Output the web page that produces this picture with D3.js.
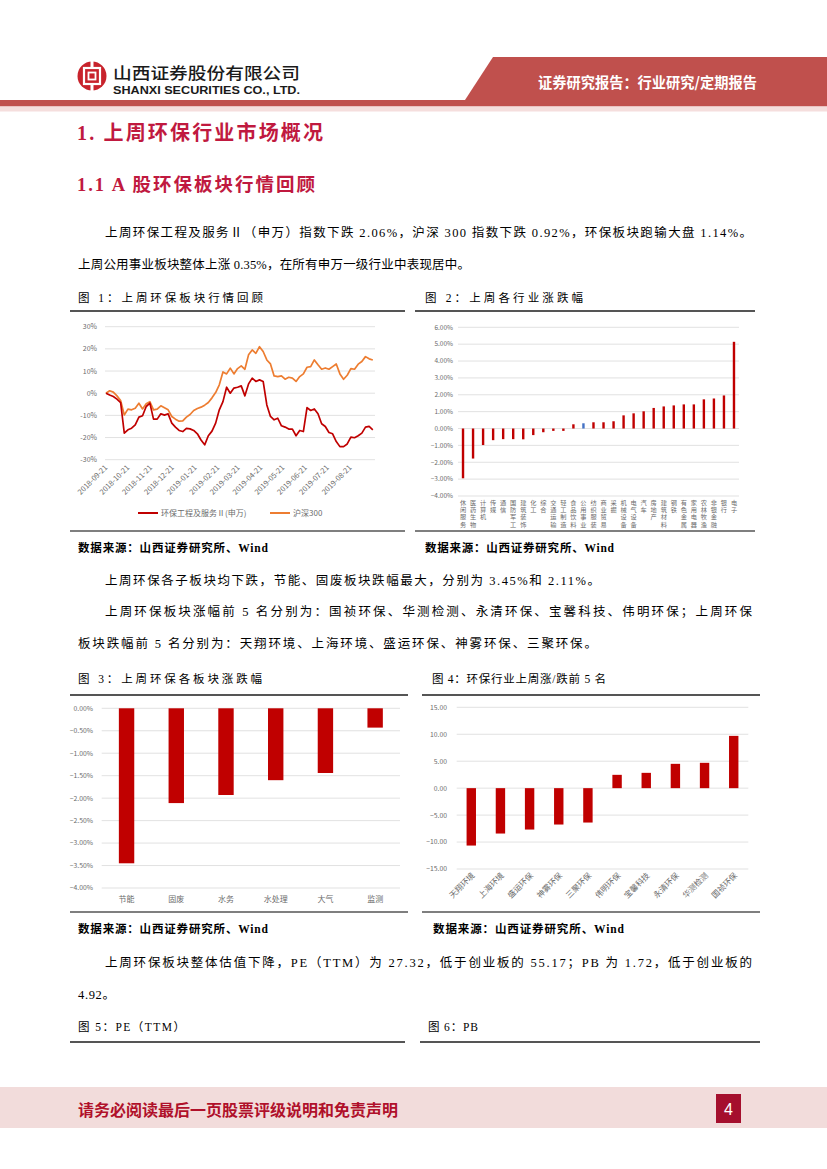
<!DOCTYPE html>
<html>
<head>
<meta charset="utf-8">
<script src="https://cdn.jsdelivr.net/npm/d3@7"></script>
<style>
  body { margin: 0; background: #fff; }
  svg { display: block; }
  .txt { font-family: "Liberation Serif", "Noto Sans CJK SC", serif; }
  .lbl { font-family: "Noto Sans CJK SC", "Liberation Sans", sans-serif; fill: #6b6b6b; }
  .grid { stroke: #d9d9d9; stroke-width: 0.8; }
</style>
</head>
<body>
<div id="page"></div>
<script>
const Width = 827;
const Height = 1169;

// chart 1: index trend, one reading every 5 days from the start date
const lineStart = '2018-09-21';
const lineStepDays = 5;
const ebIndex = [0, -0.8, -1.5, -2.7, -4.2, -18.0, -16.5, -15.8, -14.3, -10.8,
  -10.2, -6.0, -4.5, -11.7, -11.7, -9.3, -9.9, -9.3, -13.5, -15.3,
  -16.8, -17.3, -15.9, -16.1, -16.8, -18.3, -21.1, -23.3, -19.2, -17.1,
  -13.5, -7.5, -3.8, 2.7, 0, 2.3, 2.7, 3.3, -1.2, 4.2,
  6.8, 5.3, 6.0, 5.3, -5.3, -10.5, -12.0, -11.3, -14.7, -15.3,
  -16.2, -16.2, -19.2, -16.8, -17.3, -6.5, -7.8, -7.1, -9.3, -13.8,
  -15.0, -17.7, -18.3, -21.8, -24.1, -24.1, -22.9, -19.8, -20.1, -19.2,
  -18.0, -15.3, -15.0, -16.5];
const hs300 = [0, 1.1, 0.5, -1.2, -3.3, -9.8, -7.2, -7.5, -6.8, -4.5,
  -7.1, -4.8, -3.8, -7.5, -7.2, -5.7, -6.6, -7.5, -10.5, -11.7,
  -12.6, -12.5, -10.8, -9.6, -7.8, -6.9, -6.3, -5.4, -4.2, -2.1,
  0.3, 3.8, 9.6, 8.7, 11.3, 8.7, 11.1, 12.3, 10.8, 17.3,
  19.5, 18.0, 21.0, 18.8, 15.0, 13.2, 7.8, 7.5, 7.8, 6.3,
  7.2, 6.8, 5.3, 7.5, 8.7, 11.7, 12.0, 15.0, 12.8, 10.8,
  11.4, 10.8, 12.0, 13.2, 8.7, 6.3, 8.1, 11.1, 10.8, 13.1,
  14.3, 16.5, 15.5, 15.0];
const lineTicks = ['2018-09-21', '2018-10-21', '2018-11-21', '2018-12-21', '2019-01-21', '2019-02-21',
  '2019-03-21', '2019-04-21', '2019-05-21', '2019-06-21', '2019-07-21', '2019-08-21'];
const lineEnd = '2019-09-24';
const lineSeriesNames = ['环保工程及服务Ⅱ(申万)', '沪深300'];

// chart 2: industries
const industryNames = ['休闲服务', '医药生物', '计算机', '传媒', '通信', '国防军工', '建筑装饰',
  '化工', '综合', '交通运输', '轻工制造', '食品饮料', '公用事业', '纺织服装', '商业贸易',
  '采掘', '机械设备', '电气设备', '汽车', '房地产', '建筑材料', '钢铁', '有色金属',
  '家用电器', '农林牧渔', '非银金融', '银行', '电子'];
const industryChange = [-2.95, -1.78, -0.98, -0.69, -0.63, -0.63, -0.64, -0.39, -0.22, -0.14,
  -0.14, 0.25, 0.31, 0.37, 0.37, 0.43, 0.78, 0.90, 1.02, 1.22,
  1.31, 1.37, 1.43, 1.43, 1.73, 1.78, 1.96, 5.14];
const highlightIndustry = '公用事业';

// chart 3: sub sectors
const subSectors = ['节能', '固废', '水务', '水处理', '大气', '监测'];
const subSectorChange = [-3.45, -2.11, -1.93, -1.60, -1.44, -0.43];

// chart 4: top / bottom 5 stocks
const stockNames = ['天翔环境', '上海环境', '盛运环保', '神雾环保', '三聚环保',
  '伟明环保', '宝馨科技', '永清环保', '华测检测', '国祯环保'];
const stockChange = [-10.65, -8.42, -7.68, -6.75, -6.38, 2.47, 2.84, 4.51, 4.70, 9.70];

const RedMark = '#c00000';
const Orange = '#ed7d31';
const Blue = '#4472c4';
const Crimson = '#c0193f';
const HeadRed = '#c0504d';

const svg = d3.select('#page').append('svg')
  .attr('width', Width).attr('height', Height)
  .attr('viewBox', '0 0 ' + Width + ' ' + Height);

//header
svg.append('polygon')
  .attr('points', '493,57 827,57 827,100 465,100')
  .attr('fill', HeadRed);
svg.append('rect').attr('x', 0).attr('y', 100).attr('width', Width).attr('height', 6.5).attr('fill', HeadRed);
svg.append('rect').attr('x', 0).attr('y', 106.5).attr('width', Width).attr('height', 5).attr('fill', '#f5dedd');

const logo = svg.append('g').attr('transform', 'translate(92,76)');
logo.append('circle').attr('r', 14.5).attr('fill', '#c8232c');
logo.append('rect').attr('x', -8).attr('y', -8).attr('width', 16).attr('height', 16)
  .attr('fill', 'none').attr('stroke', '#fff').attr('stroke-width', 2.2);
logo.append('rect').attr('x', -3.5).attr('y', -3.5).attr('width', 7).attr('height', 7)
  .attr('fill', 'none').attr('stroke', '#fff').attr('stroke-width', 1.8);
logo.append('rect').attr('x', -1.5).attr('y', -15).attr('width', 3).attr('height', 7).attr('fill', '#fff');
logo.append('rect').attr('x', -1.5).attr('y', 8).attr('width', 3).attr('height', 7).attr('fill', '#fff');

svg.append('text').attr('x', 113).attr('y', 79)
  .attr('textLength', 187).attr('lengthAdjust', 'spacingAndGlyphs')
  .style('font-family', '"Noto Sans CJK SC", sans-serif').style('font-size', '16px')
  .style('font-weight', 500).style('fill', '#1a1a1a')
  .text('山西证券股份有限公司');
svg.append('text').attr('x', 113).attr('y', 94)
  .attr('textLength', 187).attr('lengthAdjust', 'spacingAndGlyphs')
  .style('font-family', '"Liberation Sans", sans-serif').style('font-size', '11.5px')
  .style('font-weight', 'bold').style('fill', '#1a1a1a')
  .text('SHANXI SECURITIES CO., LTD.');
svg.append('text').attr('x', 538).attr('y', 88)
  .attr('textLength', 219).attr('lengthAdjust', 'spacingAndGlyphs')
  .style('font-family', '"Noto Sans CJK SC", sans-serif').style('font-size', '14.5px')
  .style('font-weight', 'bold').style('fill', '#fff')
  .text('证券研究报告：行业研究/定期报告');

//text helper, len pins the line to the span seen on the page
function line(x, y, str, len, size, opts) {
  opts = opts || {};
  const t = svg.append('text').attr('class', 'txt')
    .attr('x', x).attr('y', y)
    .style('font-size', size + 'px')
    .style('fill', opts.fill || '#000')
    .text(str);
  if (len) t.attr('textLength', len).attr('lengthAdjust', 'spacing');
  if (opts.bold) t.style('font-weight', 'bold');
  return t;
}

line(77, 140, '1.  上周环保行业市场概况', 246, 20, { bold: true, fill: Crimson });
line(77, 191, '1.1 A 股环保板块行情回顾', 238, 18.5, { bold: true, fill: Crimson });

line(105, 237, '上周环保工程及服务Ⅱ（申万）指数下跌 2.06%，沪深 300 指数下跌 0.92%，环保板块跑输大盘 1.14%。', 647, 12.5);
line(78, 269, '上周公用事业板块整体上涨 0.35%，在所有申万一级行业中表现居中。', 392, 12.5);

line(105, 585, '上周环保各子板块均下跌，节能、固废板块跌幅最大，分别为 3.45%和 2.11%。', 495, 12.5);
line(105, 616, '上周环保板块涨幅前 5 名分别为：国祯环保、华测检测、永清环保、宝馨科技、伟明环保；上周环保', 647, 12.5);
line(78, 648, '板块跌幅前 5 名分别为：天翔环境、上海环境、盛运环保、神雾环保、三聚环保。', 519, 12.5);

line(105, 967, '上周环保板块整体估值下降，PE（TTM）为 27.32，低于创业板的 55.17；PB 为 1.72，低于创业板的', 647, 12.5);
line(78, 999, '4.92。', 37, 12.5);

//figure titles, rules and sources
const figTitles = [
  [78, 302, '图 1：上周环保板块行情回顾', 185], [425, 302, '图 2：上周各行业涨跌幅', 158],
  [78, 683, '图 3：上周环保各板块涨跌幅', 184], [432, 683, '图 4：环保行业上周涨/跌前 5 名', 174],
  [78, 1031, '图 5：PE（TTM）', 107], [428, 1031, '图 6：PB', 50]];
figTitles.forEach(d => line(d[0], d[1], d[2], d[3], 11.5));

const sources = [[78, 552, 190], [425, 552, 189], [78, 933, 190], [433, 933, 191]];
sources.forEach(d => line(d[0], d[1], '数据来源：山西证券研究所、Wind', d[2], 11.5, { bold: true }));

const rules = [
  [70, 405, 311, 1.8], [415, 755, 311, 1.8], [70, 405, 531, 1.4], [415, 755, 531, 1.4],
  [70, 408, 695, 1.8], [422, 760, 695, 1.8], [70, 408, 912, 1.4], [422, 760, 912, 1.4],
  [70, 405, 1042, 1.8], [420, 760, 1042, 1.8]];
rules.forEach(d => svg.append('line')
  .attr('x1', d[0]).attr('x2', d[1]).attr('y1', d[2]).attr('y2', d[2])
  .attr('stroke', '#555').attr('stroke-width', d[3]));

//footer
svg.append('rect').attr('x', 0).attr('y', 1087).attr('width', Width).attr('height', 41).attr('fill', '#f2dcdb');
svg.append('text').attr('x', 78).attr('y', 1116)
  .attr('textLength', 320).attr('lengthAdjust', 'spacingAndGlyphs')
  .style('font-family', '"Noto Sans CJK SC", serif').style('font-size', '15.5px')
  .style('font-weight', 'bold').style('fill', '#b0102a')
  .text('请务必阅读最后一页股票评级说明和免责声明');
svg.append('rect').attr('x', 716).attr('y', 1094).attr('width', 25).attr('height', 29).attr('fill', '#a50f2d');
svg.append('text').attr('x', 728.5).attr('y', 1115).attr('text-anchor', 'middle')
  .style('font-family', '"Liberation Sans", sans-serif').style('font-size', '16px')
  .style('fill', '#fff').text('4');

//chart 1 : line chart
const parseDate = d3.timeParse('%Y-%m-%d');
const formatDate = d3.timeFormat('%Y-%m-%d');
const startDate = parseDate(lineStart);
const lineDates = ebIndex.map((d, i) => d3.timeDay.offset(startDate, i * lineStepDays));

const x1 = d3.scaleTime().domain([startDate, parseDate(lineEnd)]).range([106, 375]);
const y1 = d3.scaleLinear().domain([-30, 30]).range([459.7, 326.7]);
const c1 = svg.append('g');

c1.selectAll('.grid').data(y1.ticks(6)).enter().append('line')
  .attr('class', 'grid')
  .attr('x1', 105).attr('x2', 375)
  .attr('y1', d => y1(d)).attr('y2', d => y1(d));
c1.selectAll('.ylab').data(y1.ticks(6)).enter().append('text')
  .attr('class', 'lbl').attr('x', 97).attr('y', d => y1(d) + 2.5)
  .attr('text-anchor', 'end').style('font-size', '7px')
  .text(d => d + '%');
c1.selectAll('.xlab').data(lineTicks.map(parseDate)).enter().append('text')
  .attr('class', 'lbl').style('font-size', '7.5px')
  .attr('text-anchor', 'end')
  .attr('transform', d => 'translate(' + (x1(d) + 2) + ',468) rotate(-45)')
  .text(d => formatDate(d));

const lineGen = d3.line().x((d, i) => x1(lineDates[i])).y(d => y1(d));
c1.append('path').datum(hs300).attr('d', lineGen)
  .attr('fill', 'none').attr('stroke', Orange).attr('stroke-width', 1.7).attr('stroke-linejoin', 'round');
c1.append('path').datum(ebIndex).attr('d', lineGen)
  .attr('fill', 'none').attr('stroke', RedMark).attr('stroke-width', 1.7).attr('stroke-linejoin', 'round');

const legend1 = [[138, RedMark], [270, Orange]];
legend1.forEach((d, i) => {
  c1.append('line').attr('x1', d[0]).attr('x2', d[0] + 20).attr('y1', 513).attr('y2', 513)
    .attr('stroke', d[1]).attr('stroke-width', 2);
  c1.append('text').attr('class', 'lbl').attr('x', d[0] + 23).attr('y', 516)
    .style('font-size', '8px').text(lineSeriesNames[i]);
});

//chart 2 : industries
const x2 = d3.scaleBand().domain(industryNames).range([458, 739]);
const y2 = d3.scaleLinear().domain([-4, 6]).range([496, 327.3]);
const c2 = svg.append('g');
c2.selectAll('.grid').data(y2.ticks(10)).enter().append('line')
  .attr('class', 'grid').attr('x1', 458).attr('x2', 739)
  .attr('y1', d => y2(d)).attr('y2', d => y2(d));
c2.selectAll('.ylab').data(y2.ticks(10)).enter().append('text')
  .attr('class', 'lbl').attr('x', 453).attr('y', d => y2(d) + 2.3)
  .attr('text-anchor', 'end').style('font-size', '6.5px')
  .text(d => d3.format('.2f')(d) + '%');
c2.selectAll('.bar').data(industryNames).enter().append('rect')
  .attr('x', d => x2(d) + x2.bandwidth() / 2 - 1.2)
  .attr('width', 2.4)
  .attr('y', (d, i) => y2(Math.max(0, industryChange[i])))
  .attr('height', (d, i) => Math.abs(y2(industryChange[i]) - y2(0)))
  .attr('fill', d => d === highlightIndustry ? Blue : RedMark);
const vlab = c2.selectAll('.xlab').data(industryNames).enter().append('text')
  .attr('class', 'lbl').attr('text-anchor', 'middle').style('font-size', '6.2px');
vlab.selectAll('tspan').data(d => d.split('').map(ch => [d, ch])).enter().append('tspan')
  .attr('x', d => x2(d[0]) + x2.bandwidth() / 2)
  .attr('y', (d, i) => 505 + i * 7.2)
  .text(d => d[1]);

//chart 3 : sub sectors
const x3 = d3.scaleBand().domain(subSectors).range([101.7, 400]);
const y3 = d3.scaleLinear().domain([-4, 0]).range([888, 708.3]);
const c3 = svg.append('g');
const t3 = d3.range(-4, 0.01, 0.5);
c3.selectAll('.grid').data(t3).enter().append('line')
  .attr('class', 'grid').attr('x1', 101.7).attr('x2', 400)
  .attr('y1', d => y3(d)).attr('y2', d => y3(d));
c3.selectAll('.ylab').data(t3).enter().append('text')
  .attr('class', 'lbl').attr('x', 93).attr('y', d => y3(d) + 2.4)
  .attr('text-anchor', 'end').style('font-size', '6.8px')
  .text(d => d3.format('.2f')(d) + '%');
c3.selectAll('.bar').data(subSectors).enter().append('rect')
  .attr('x', d => x3(d) + x3.bandwidth() / 2 - 7.7)
  .attr('width', 15.4)
  .attr('y', y3(0))
  .attr('height', (d, i) => y3(subSectorChange[i]) - y3(0))
  .attr('fill', RedMark);
c3.selectAll('.xlab').data(subSectors).enter().append('text')
  .attr('class', 'lbl').attr('text-anchor', 'middle').style('font-size', '8px')
  .attr('x', d => x3(d) + x3.bandwidth() / 2).attr('y', 902)
  .text(d => d);

//chart 4 : top / bottom stocks
const x4 = d3.scaleBand().domain(stockNames).range([456.7, 748.3]);
const y4 = d3.scaleLinear().domain([-15, 15]).range([869, 707.3]);
const c4 = svg.append('g');
const t4 = d3.range(-15, 15.01, 5);
c4.selectAll('.grid').data(t4).enter().append('line')
  .attr('class', 'grid').attr('x1', 456.7).attr('x2', 748.3)
  .attr('y1', d => y4(d)).attr('y2', d => y4(d));
c4.selectAll('.ylab').data(t4).enter().append('text')
  .attr('class', 'lbl').attr('x', 447).attr('y', d => y4(d) + 2.4)
  .attr('text-anchor', 'end').style('font-size', '6.8px')
  .text(d => d3.format('.2f')(d));
c4.selectAll('.bar').data(stockNames).enter().append('rect')
  .attr('x', d => x4(d) + x4.bandwidth() / 2 - 4.7)
  .attr('width', 9.4)
  .attr('y', (d, i) => y4(Math.max(0, stockChange[i])))
  .attr('height', (d, i) => Math.abs(y4(stockChange[i]) - y4(0)))
  .attr('fill', RedMark);
c4.selectAll('.xlab').data(stockNames).enter().append('text')
  .attr('class', 'lbl').attr('text-anchor', 'end').style('font-size', '8px')
  .attr('transform', d => 'translate(' + (x4(d) + x4.bandwidth() / 2 + 4) + ',876) rotate(-45)')
  .text(d => d);
</script>
</body>
</html>
